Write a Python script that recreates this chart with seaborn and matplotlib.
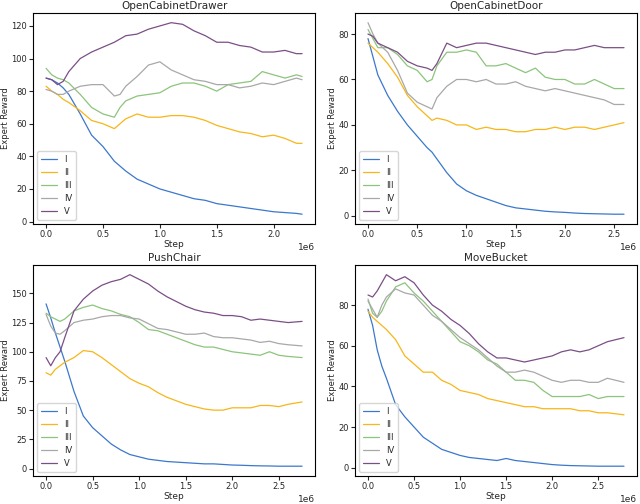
import numpy as np
import pandas as pd
import seaborn as sns
import matplotlib.pyplot as plt

methods = ['I', 'II', 'III', 'IV', 'V']
colors = ['#3b78cc', '#f7b619', '#8cc47c', '#a8a8a8', '#7b4f86']

# OpenCabinetDrawer
x_drawer = [0, 0.05, 0.1, 0.15, 0.2, 0.3, 0.4, 0.5, 0.6, 0.65, 0.7, 0.8, 0.9, 1.0, 1.1,
            1.2, 1.3, 1.4, 1.5, 1.6, 1.7, 1.8, 1.9, 2.0, 2.1, 2.2, 2.25]
drawer_I = [88, 87, 85, 82, 78, 66, 53, 46, 37, 34, 31, 26, 23, 20, 18, 16, 14, 13, 11, 10, 9, 8, 7, 6, 5.5, 5, 4.5]
drawer_II = [83, 80, 78, 75, 73, 68, 62, 60, 57, 60, 63, 66, 64, 64, 65, 65, 64, 62, 59, 57, 55, 54, 52, 53, 51, 48, 48]
drawer_III = [94, 90, 88, 87, 85, 78, 70, 66, 64, 70, 74, 77, 78, 79, 83, 85, 85, 83, 80, 84, 85, 86, 92, 90, 88, 90, 89]
drawer_IV = [81, 80, 78, 78, 80, 83, 84, 84, 77, 78, 83, 89, 96, 98, 93, 90, 87, 86, 84, 84, 82, 83, 85, 84, 86, 88, 87]
drawer_V = [88, 87, 84, 86, 92, 100, 104, 107, 110, 112, 114, 115, 118, 120, 122, 121, 117, 114, 110, 110, 108, 107, 104, 104, 105, 103, 103]

# OpenCabinetDoor
x_door = [0, 0.05, 0.1, 0.2, 0.3, 0.4, 0.5, 0.6, 0.65, 0.7, 0.8, 0.9, 1.0, 1.1, 1.2, 1.3, 1.4,
          1.5, 1.6, 1.7, 1.8, 1.9, 2.0, 2.1, 2.2, 2.3, 2.4, 2.5, 2.6]
door_I = [78, 70, 62, 53, 46, 40, 35, 30, 28, 25, 19, 14, 11, 9, 7.5, 6, 4.5, 3.5, 3, 2.5, 2, 1.7, 1.5, 1.2, 1, 0.9, 0.8, 0.7, 0.7]
door_II = [76, 74, 72, 67, 61, 53, 48, 44, 42, 43, 42, 40, 40, 38, 39, 38, 38, 37, 37, 38, 38, 39, 38, 39, 39, 38, 39, 40, 41]
door_III = [82, 78, 74, 74, 71, 66, 64, 59, 60, 66, 72, 72, 73, 72, 66, 66, 67, 65, 63, 65, 61, 60, 60, 58, 58, 60, 58, 56, 56]
door_IV = [85, 80, 76, 72, 64, 54, 50, 48, 47, 52, 57, 60, 60, 59, 60, 58, 58, 59, 57, 56, 55, 56, 55, 54, 53, 52, 51, 49, 49]
door_V = [80, 79, 76, 74, 72, 68, 66, 65, 64, 67, 76, 74, 75, 76, 76, 75, 74, 73, 72, 71, 72, 72, 73, 73, 74, 75, 74, 74, 74]

# PushChair
x_chair = [0, 0.05, 0.1, 0.15, 0.2, 0.3, 0.4, 0.5, 0.6, 0.7, 0.8, 0.9, 1.0, 1.1, 1.2, 1.3, 1.4,
           1.5, 1.6, 1.7, 1.8, 1.9, 2.0, 2.1, 2.2, 2.3, 2.4, 2.5, 2.6, 2.75]
chair_I = [141, 129, 116, 104, 92, 66, 45, 35, 28, 21, 16, 12, 10, 8, 7, 6, 5.5, 5, 4.5, 4, 4, 3.5, 3, 2.8, 2.5, 2.3, 2.2, 2, 2, 2]
chair_II = [82, 80, 85, 88, 91, 95, 101, 100, 95, 89, 83, 77, 73, 70, 65, 61, 58, 55, 53, 51, 50, 50, 52, 52, 52, 54, 54, 53, 55, 57]
chair_III = [133, 130, 128, 126, 128, 135, 138, 140, 137, 135, 132, 130, 125, 119, 118, 115, 112, 109, 106, 104, 104, 102, 100, 99, 98, 97, 100, 97, 96, 95]
chair_IV = [132, 122, 116, 115, 118, 125, 127, 128, 130, 131, 131, 129, 128, 124, 120, 119, 117, 115, 115, 116, 113, 112, 112, 111, 110, 108, 109, 107, 106, 105]
chair_V = [95, 88, 95, 100, 112, 135, 145, 152, 157, 160, 162, 166, 162, 158, 152, 147, 143, 139, 136, 134, 133, 131, 131, 130, 127, 128, 127, 126, 125, 126]

# MoveBucket
x_bucket = [0, 0.05, 0.1, 0.15, 0.2, 0.3, 0.4, 0.5, 0.6, 0.7, 0.8, 0.9, 1.0, 1.1, 1.2, 1.3, 1.4,
            1.5, 1.6, 1.7, 1.8, 1.9, 2.0, 2.1, 2.2, 2.3, 2.4, 2.5, 2.6, 2.78]
bucket_I = [78, 70, 58, 50, 44, 31, 25, 20, 15, 12, 9, 7.5, 6, 5, 4.5, 4, 3.5, 4.5, 3.5, 3, 2.5, 2, 1.5, 1.2, 1, 0.9, 0.8, 0.7, 0.7, 0.7]
bucket_II = [77, 74, 72, 70, 68, 63, 55, 51, 47, 47, 43, 41, 38, 37, 36, 34, 33, 32, 31, 30, 30, 29, 29, 29, 29, 28, 28, 27, 27, 26]
bucket_III = [83, 76, 74, 77, 82, 89, 91, 86, 82, 77, 72, 67, 62, 60, 57, 53, 51, 47, 43, 43, 42, 38, 35, 35, 35, 35, 36, 34, 35, 35]
bucket_IV = [82, 78, 74, 80, 84, 88, 86, 85, 80, 75, 72, 68, 64, 61, 58, 54, 50, 47, 47, 48, 47, 45, 43, 42, 43, 43, 42, 42, 44, 42]
bucket_V = [85, 84, 87, 91, 95, 92, 94, 91, 85, 80, 77, 73, 70, 66, 61, 57, 54, 54, 53, 52, 53, 54, 55, 57, 58, 57, 58, 60, 62, 64]

panels = [
    ('OpenCabinetDrawer', x_drawer, [drawer_I, drawer_II, drawer_III, drawer_IV, drawer_V]),
    ('OpenCabinetDoor', x_door, [door_I, door_II, door_III, door_IV, door_V]),
    ('PushChair', x_chair, [chair_I, chair_II, chair_III, chair_IV, chair_V]),
    ('MoveBucket', x_bucket, [bucket_I, bucket_II, bucket_III, bucket_IV, bucket_V]),
]

sns.set_style('ticks')
plt.rcParams['font.family'] = ['DejaVu Sans']

fig = plt.figure(figsize=(6.4, 5.04), dpi=100)
# axes boxes in figure fractions (left, bottom, width, height)
positions = [[0.052, 0.556, 0.44, 0.418], [0.555, 0.556, 0.44, 0.418],
             [0.052, 0.056, 0.44, 0.418], [0.555, 0.056, 0.44, 0.418]]

for (title, xs, series), pos in zip(panels, positions):
    ax = fig.add_axes(pos)
    rows = []
    for name, ys in zip(methods, series):
        for xv, yv in zip(xs, ys):
            rows.append({'Step': xv * 1e6, 'Expert Reward': yv, 'method': name})
    df = pd.DataFrame(rows)
    sns.lineplot(data=df, x='Step', y='Expert Reward', hue='method', palette=colors,
                 linewidth=0.9, ax=ax)
    ax.set_title(title, fontsize=7.5, pad=3)
    ax.set_xlabel('Step', fontsize=6.5, labelpad=1)
    ax.set_ylabel('Expert Reward', fontsize=6, labelpad=1)
    ax.tick_params(labelsize=6, length=3, pad=1.5)
    ax.xaxis.get_offset_text().set_fontsize(6.5)
    for sp in ax.spines.values():
        sp.set_color('black')
        sp.set_linewidth(0.8)
    ax.legend(loc='lower left', fontsize=6, frameon=True, handlelength=2.0)

fig.savefig('out.png', dpi=100)
